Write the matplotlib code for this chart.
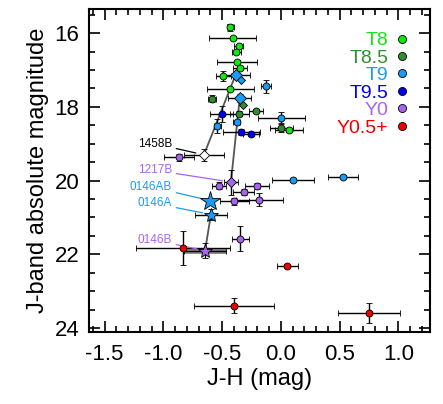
import numpy as np
import matplotlib
matplotlib.use('Agg')
import matplotlib.pyplot as plt
from matplotlib.lines import Line2D
from matplotlib.ticker import MultipleLocator, FormatStrFormatter

plt.rcParams['font.family'] = ['Liberation Sans', 'DejaVu Sans']
plt.rcParams['axes.unicode_minus'] = False

# spectral type colours
COL_T8 = '#11e811'
COL_T85 = '#2f8f2f'
COL_T9 = '#1a9cf5'
COL_T95 = '#0000f0'
COL_Y0 = '#a864ee'
COL_Y05 = '#f00000'

# field dwarfs: J-H, M_J and errors, grouped by spectral type
t8_jh = [-0.43, -0.41, -0.36, -0.38, -0.37, -0.35, -0.49, -0.43, 0.07]
t8_mj = [15.84, 16.12, 16.34, 16.52, 16.78, 16.95, 17.16, 17.52, 18.63]
t8_xe = [0.03, 0.20, 0.035, 0.04, 0.17, 0.06, 0.065, 0.20, 0.12]
t8_ye = [0.09, 0.04, 0.05, 0.05, 0.05, 0.05, 0.14, 0.05, 0.05]

t85_jh = [-0.585, -0.21, -0.355, 0.005]
t85_mj = [17.78, 18.11, 18.18, 18.57]
t85_xe = [0.035, 0.06, 0.08, 0.10]
t85_ye = [0.09, 0.05, 0.06, 0.10]

t9_jh = [-0.125, 0.005, -0.54, -0.375, 0.105, 0.53]
t9_mj = [17.44, 18.29, 18.52, 18.42, 19.98, 19.89]
t9_xe = [0.04, 0.20, 0.03, 0.03, 0.18, 0.13]
t9_ye = [0.18, 0.14, 0.20, 0.03, 0.05, 0.04]

t95_jh = [-0.505, -0.335, -0.255]
t95_mj = [18.20, 18.68, 18.74]
t95_xe = [0.10, 0.16, 0.07]
t95_ye = [0.22, 0.07, 0.04]

y0_jh = [-0.865, -0.525, -0.315, -0.205, -0.395, -0.185, -0.345]
y0_mj = [19.37, 20.14, 20.32, 20.14, 20.56, 20.52, 21.58]
y0_xe = [0.13, 0.06, 0.09, 0.10, 0.12, 0.20, 0.07]
y0_ye = [0.10, 0.10, 0.08, 0.08, 0.10, 0.18, 0.34]

y05_jh = [-0.83, 0.055, -0.40, 0.75]
y05_mj = [21.83, 22.31, 23.39, 23.59]
y05_xe = [0.40, 0.09, 0.34, 0.26]
y05_ye = [0.47, 0.05, 0.21, 0.28]

# resolved binaries
bin_a_jh = [-0.385, -0.35]       # 1458A, 1217A (T9)
bin_a_mj = [17.13, 17.76]
bin_a_xe = [0.12, 0.10]
bin_a_ye = [0.10, 0.10]
bin_a2_jh = [-0.34]              # small T9 diamond
bin_a2_mj = [17.27]
bin_a2g_jh = [-0.32]             # small T8.5 diamond
bin_a2g_mj = [17.94]

b1458_jh, b1458_mj, b1458_xe, b1458_ye = -0.655, 19.30, 0.17, 0.17
b1217_jh, b1217_mj, b1217_xe, b1217_ye = -0.425, 20.04, 0.06, 0.34
b0146ab_jh, b0146ab_mj = -0.605, 20.54
b0146a_jh, b0146a_mj, b0146a_xe, b0146a_ye = -0.595, 20.92, 0.135, 0.16
b0146b_jh, b0146b_mj, b0146b_xe, b0146b_ye = -0.645, 21.90, 0.18, 0.21

legend_labels = ['T8', 'T8.5', 'T9', 'T9.5', 'Y0', 'Y0.5+']
legend_colors = [COL_T8, COL_T85, COL_T9, COL_T95, COL_Y0, COL_Y05]

fig = plt.figure(figsize=(4.43, 4.04), dpi=100)
ax = fig.add_axes([0.2016, 0.179, 0.768, 0.799])

ebkw = dict(ecolor='black', elinewidth=1.0, capsize=2.5, capthick=1.0, linestyle='none',
            markeredgecolor='black', markeredgewidth=0.6, zorder=3)

for jh, mj, xe, ye, c in [(t8_jh, t8_mj, t8_xe, t8_ye, COL_T8),
                          (t85_jh, t85_mj, t85_xe, t85_ye, COL_T85),
                          (t9_jh, t9_mj, t9_xe, t9_ye, COL_T9),
                          (t95_jh, t95_mj, t95_xe, t95_ye, COL_T95),
                          (y0_jh, y0_mj, y0_xe, y0_ye, COL_Y0),
                          (y05_jh, y05_mj, y05_xe, y05_ye, COL_Y05)]:
    ax.errorbar(jh, mj, xerr=xe, yerr=ye, marker='o', markersize=5, markerfacecolor=c, **ebkw)

# connecting lines for binary components
ax.plot([bin_a_jh[0], b1458_jh], [bin_a_mj[0], b1458_mj], color='#555555', lw=1.3, zorder=2)
ax.plot([bin_a_jh[1], b1217_jh], [bin_a_mj[1], b1217_mj], color='#555555', lw=1.3, zorder=2)
ax.plot([b0146a_jh, b0146b_jh], [b0146a_mj, b0146b_mj], color='#555555', lw=1.3, zorder=2)

ax.errorbar(bin_a_jh, bin_a_mj, xerr=bin_a_xe, yerr=bin_a_ye, marker='D', markersize=6.3,
            markerfacecolor=COL_T9, **ebkw)
ax.plot(bin_a2_jh, bin_a2_mj, 'D', ms=3.8, mfc=COL_T9, mec='black', mew=0.6, zorder=4)
ax.plot(bin_a2g_jh, bin_a2g_mj, 'D', ms=4, mfc=COL_T85, mec='black', mew=0.6, zorder=4)

ax.errorbar(b1458_jh, b1458_mj, xerr=b1458_xe, yerr=b1458_ye, marker='D', markersize=5,
            markerfacecolor='white', **ebkw)
ax.errorbar(b1217_jh, b1217_mj, xerr=b1217_xe, yerr=b1217_ye, marker='D', markersize=4.6,
            markerfacecolor=COL_Y0, **ebkw)
ax.errorbar(b0146b_jh, b0146b_mj, xerr=b0146b_xe, fmt='none', ecolor='#888888', elinewidth=3.5,
            capsize=0, zorder=2)
ax.errorbar(b0146b_jh, b0146b_mj, xerr=b0146b_xe, yerr=b0146b_ye, marker='*', markersize=10,
            markerfacecolor=COL_Y0, **ebkw)
ax.errorbar(b0146a_jh, b0146a_mj, xerr=b0146a_xe, yerr=b0146a_ye, marker='*', markersize=10,
            markerfacecolor=COL_T9, **ebkw)
ax.plot(b0146ab_jh, b0146ab_mj, '*', ms=15, mfc=COL_T9, mec='black', mew=0.6, zorder=5)

# name labels
ann = [('1458B', 'black', b1458_jh, b1458_mj, (-0.925, 19.0)),
       ('1217B', COL_Y0, b1217_jh, b1217_mj, (-0.925, 19.72)),
       ('0146AB', COL_T9, b0146ab_jh, b0146ab_mj, (-0.925, 20.17)),
       ('0146A', COL_T9, b0146a_jh, b0146a_mj, (-0.925, 20.62)),
       ('0146B', COL_Y0, b0146b_jh, b0146b_mj, (-0.925, 21.62))]
for name, c, x, y, xyt in ann:
    ax.annotate(name, xy=(x, y), xytext=xyt, color=c, fontsize=8.5, ha='right', va='center',
                arrowprops=dict(arrowstyle='-', color=c, lw=0.9, shrinkA=1, shrinkB=6))

handles = [Line2D([], [], marker='o', ls='none', ms=5.8, mfc=c, mec='black', mew=0.6)
           for c in legend_colors]
ax.legend(handles, legend_labels, loc='upper right', bbox_to_anchor=(0.948, 0.929),
          frameon=False, markerfirst=False, labelcolor=legend_colors, fontsize=14,
          handlelength=1.0, handletextpad=0.2, borderpad=0, borderaxespad=0, labelspacing=-0.01)

ax.set_xlim(-1.63, 1.265)
ax.set_ylim(24.1, 15.34)
ax.xaxis.set_major_locator(MultipleLocator(0.5))
ax.xaxis.set_minor_locator(MultipleLocator(0.1))
ax.xaxis.set_major_formatter(FormatStrFormatter('%.1f'))
ax.yaxis.set_major_locator(MultipleLocator(2))
ax.yaxis.set_minor_locator(MultipleLocator(0.5))
ax.tick_params(which='both', direction='in', top=True, right=True, width=1.2)
ax.tick_params(which='major', length=8, labelsize=16)
ax.tick_params(axis='y', which='major', pad=7)
ax.tick_params(axis='x', which='major', pad=9)
ax.tick_params(which='minor', length=4.5)
for s in ax.spines.values():
    s.set_linewidth(1.5)

ax.set_xlabel('J-H (mag)', fontsize=17, labelpad=2)
ax.set_ylabel('J-band absolute magnitude', fontsize=17, labelpad=4)

fig.savefig('out.png', dpi=100)
